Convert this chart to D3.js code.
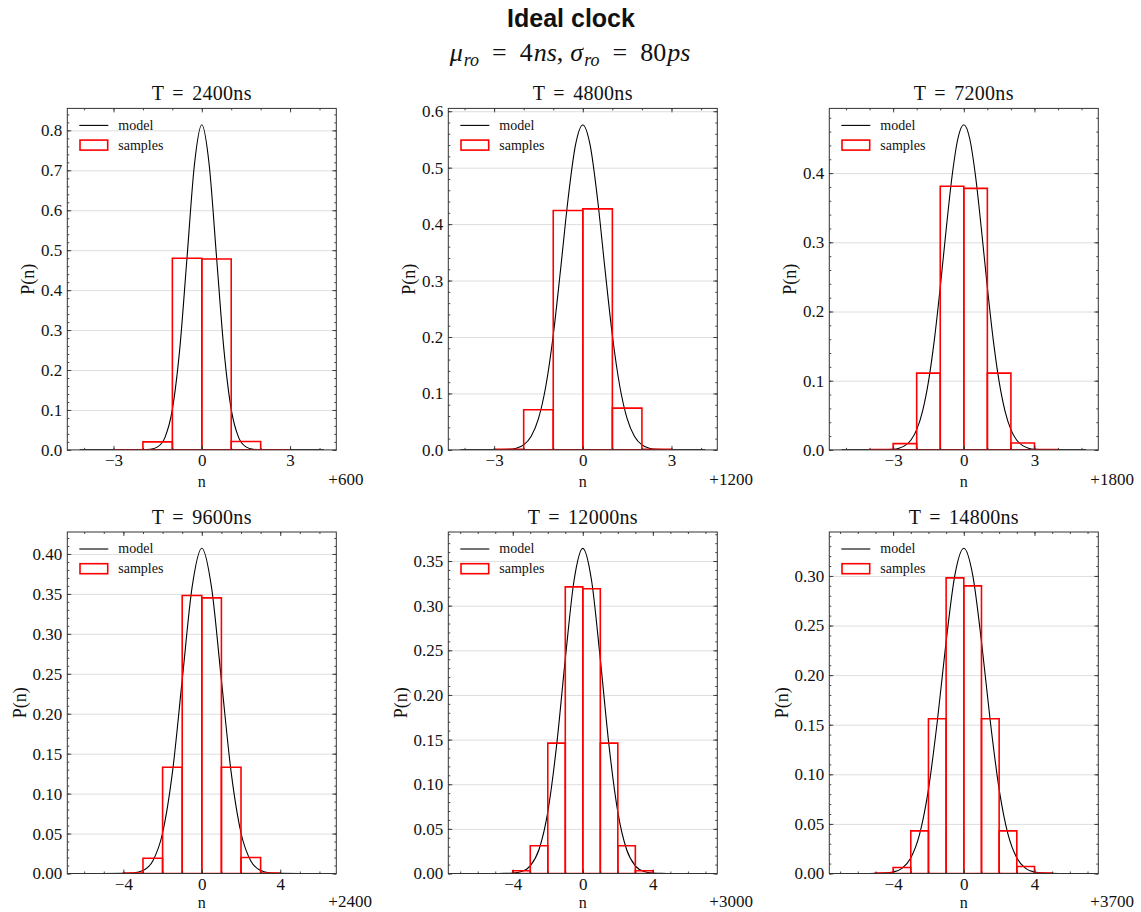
<!DOCTYPE html>
<html>
<head>
<meta charset="utf-8">
<script src="https://cdn.jsdelivr.net/npm/d3@7"></script>
<style>
  body { margin: 0; background: #fff; }
  text { font-family: "Liberation Serif", "DejaVu Serif", serif; fill: #111; }
</style>
</head>
<body>
<svg id="fig"></svg>
<script>
// one panel per measurement period T (ns); counts are shown relative to n0 = T / 4ns
const periods = [2400, 4800, 7200, 9600, 12000, 14800];
const offsets = [600, 1200, 1800, 2400, 3000, 3700];

// histogram of sampled counts: first bin edge (relative to offset), unit-width bins
const binStart = [-3, -3, -4, -4, -4, -5];
const sampleHeights = [
  [0, 0.020, 0.480, 0.478, 0.021, 0],
  [0.001, 0.071, 0.424, 0.427, 0.074, 0.001],
  [0.0005, 0.009, 0.111, 0.381, 0.378, 0.111, 0.010, 0.0005],
  [0.0005, 0.019, 0.133, 0.348, 0.345, 0.133, 0.020, 0.0005],
  [0.003, 0.031, 0.146, 0.321, 0.319, 0.146, 0.031, 0.003],
  [0.0005, 0.006, 0.043, 0.156, 0.298, 0.290, 0.156, 0.043, 0.007, 0.0005]
];

// model curve, read for n >= 0 (it is symmetric about 0)
const modelX = [
  [0, 0.25, 0.5, 0.75, 1, 1.25, 1.5, 1.75, 2, 2.5, 3, 4.15],
  [0, 0.25, 0.5, 0.75, 1, 1.25, 1.5, 1.75, 2, 2.25, 2.5, 3, 4.14],
  [0, 0.25, 0.5, 0.75, 1, 1.25, 1.5, 1.75, 2, 2.25, 2.5, 2.75, 3, 3.5, 4, 5.19],
  [0, 0.5, 1, 1.5, 2, 2.5, 3, 3.5, 4, 6.24],
  [0, 0.5, 1, 1.5, 2, 2.5, 3, 3.5, 4, 4.5, 6.98],
  [0, 0.5, 1, 1.5, 2, 2.5, 3, 3.5, 4, 4.5, 5, 6.92]
];
const modelY = [
  [0.814, 0.7146, 0.4837, 0.2523, 0.1014, 0.0314, 0.0075, 0.0014, 0.0002, 0, 0, 0],
  [0.5757, 0.5394, 0.4437, 0.3205, 0.2032, 0.1132, 0.0553, 0.0237, 0.0089, 0.0030, 0.0009, 0.0001, 0],
  [0.4699, 0.4500, 0.3951, 0.3181, 0.2348, 0.1590, 0.0987, 0.0562, 0.0293, 0.0140, 0.0062, 0.0025, 0.0009, 0.0001, 0, 0],
  [0.4072, 0.3575, 0.2420, 0.1262, 0.0507, 0.0157, 0.0038, 0.0007, 0.0001, 0],
  [0.3642, 0.3282, 0.2401, 0.1426, 0.0688, 0.0269, 0.0086, 0.0022, 0.0005, 0.0001, 0],
  [0.3279, 0.3013, 0.2339, 0.1533, 0.0849, 0.0397, 0.0157, 0.0052, 0.0015, 0.0004, 0.0001, 0]
];

// axis limits and ticks
const xLimits = [4.57, 4.55, 5.71, 6.86, 7.68, 7.61];
const yMax = [0.855, 0.605, 0.4935, 0.4275, 0.3825, 0.3443];
const xTickStep = [3, 3, 3, 4, 4, 4];
const yTickStep = [0.1, 0.1, 0.1, 0.05, 0.05, 0.05];
const yDecimals = [1, 1, 1, 2, 2, 2];

const W = 1141, H = 912;
const colX = [67.3, 448.3, 829.3], rowY = [108.4, 532.0];
const pw = 269, ph = 341.5;
const axisColor = "#333";

const svg = d3.select("#fig").attr("width", W).attr("height", H);

svg.append("text")
  .attr("x", 571).attr("y", 27).attr("text-anchor", "middle")
  .style("font-family", "'Liberation Sans', Arial, sans-serif")
  .style("font-weight", "bold").style("font-size", "25px")
  .text("Ideal clock");

// mu_ro = 4ns, sigma_ro = 80ps
const sub = svg.append("text").attr("x", 570).attr("y", 61).attr("text-anchor", "middle")
  .style("font-size", "26px");
const parts = [
  ["μ", "italic", 0, 0, 26], ["ro", "italic", 1, 5, 18],
  ["=", "normal", 13, -5, 26], ["4", "normal", 13, 0, 26], ["ns", "italic", 1, 0, 26],
  [",", "normal", 0, 0, 26], ["σ", "italic", 7, 0, 26], ["ro", "italic", 1, 5, 18],
  ["=", "normal", 13, -5, 26], ["80", "normal", 13, 0, 26], ["ps", "italic", 1, 0, 26]
];
parts.forEach(([t, st, dx, dy, fs]) => {
  sub.append("tspan").attr("dx", dx).attr("dy", dy)
    .style("font-style", st).style("font-size", fs + "px").text(t);
});

function styleAxis(sel, withText) {
  sel.select(".domain").remove();
  sel.selectAll(".tick line").attr("stroke", axisColor).attr("stroke-width", 0.9);
  if (withText) {
    sel.selectAll(".tick text")
      .style("font-family", "'Liberation Serif', serif")
      .style("font-size", "17px").style("fill", "#111");
  } else {
    sel.selectAll(".tick text").remove();
  }
}

periods.forEach((T, i) => {
  const row = Math.floor(i / 3);
  const left = colX[i % 3], top = rowY[row];
  const g = svg.append("g").attr("transform", `translate(${left},${top})`);

  const x = d3.scaleLinear().domain([-xLimits[i], xLimits[i]]).range([0, pw]);
  const y = d3.scaleLinear().domain([0, yMax[i]]).range([ph, 0]);

  const nY = Math.floor(yMax[i] / yTickStep[i] + 1e-6);
  const yMajor = d3.range(0, nY + 1).map(k => +(k * yTickStep[i]).toFixed(4));
  const yMinorStep = yTickStep[i] / 5;
  const nYm = Math.floor(yMax[i] / yMinorStep + 1e-6);
  const yMinor = d3.range(0, nYm + 1).map(k => +(k * yMinorStep).toFixed(4));
  const s = xTickStep[i];
  const xMajor = [-s, 0, s];
  const nXm = Math.floor(xLimits[i]);
  const xMinor = d3.range(-nXm, nXm + 1);

  const clipId = "clip" + i;
  g.append("clipPath").attr("id", clipId)
    .append("rect").attr("width", pw).attr("height", ph);

  // horizontal grid
  const grid = g.append("g")
    .call(d3.axisLeft(y).tickValues(yMajor.slice(1)).tickSize(-pw).tickFormat(""));
  grid.select(".domain").remove();
  grid.selectAll(".tick line").attr("stroke", "#dedede").attr("stroke-width", 1);

  const plot = g.append("g").attr("clip-path", `url(#${clipId})`);

  // model curve
  const half = modelX[i].map((v, k) => [v, modelY[i][k]]);
  const pts = half.slice(1).reverse().map(([a, b]) => [-a, b]).concat(half);
  plot.append("path")
    .attr("d", d3.line().x(d => x(d[0])).y(d => y(d[1])).curve(d3.curveMonotoneX)(pts))
    .attr("fill", "none").attr("stroke", "#000").attr("stroke-width", 1.1);

  // sample histogram
  const bins = sampleHeights[i].map((h, j) => ({ x0: binStart[i] + j, x1: binStart[i] + j + 1, h }));
  plot.selectAll("path.bar").data(bins).join("path")
    .attr("class", "bar")
    .attr("d", d => `M${x(d.x0)},${y(0)}V${y(d.h)}H${x(d.x1)}V${y(0)}Z`)
    .attr("fill", "none").attr("stroke", "#ff0000").attr("stroke-width", 1.6);

  // ticks on all four sides, pointing inward
  g.append("g").attr("transform", `translate(0,${ph})`)
    .call(d3.axisBottom(x).tickValues(xMinor).tickSize(-2).tickFormat(""))
    .call(a => styleAxis(a, false));
  g.append("g")
    .call(d3.axisTop(x).tickValues(xMinor).tickSize(-2).tickFormat(""))
    .call(a => styleAxis(a, false));
  g.append("g").attr("transform", `translate(0,${ph})`)
    .call(d3.axisBottom(x).tickValues(xMajor).tickSizeInner(-4).tickSizeOuter(0)
      .tickPadding(4.5).tickFormat(d3.format("d")))
    .call(a => styleAxis(a, true));
  g.append("g")
    .call(d3.axisTop(x).tickValues(xMajor).tickSize(-4).tickFormat(""))
    .call(a => styleAxis(a, false));

  g.append("g")
    .call(d3.axisLeft(y).tickValues(yMinor).tickSize(-2).tickFormat(""))
    .call(a => styleAxis(a, false));
  g.append("g").attr("transform", `translate(${pw},0)`)
    .call(d3.axisRight(y).tickValues(yMinor).tickSize(-2).tickFormat(""))
    .call(a => styleAxis(a, false));
  const yAxis = g.append("g")
    .call(d3.axisLeft(y).tickValues(yMajor).tickSizeInner(-4).tickSizeOuter(0)
      .tickPadding(5).tickFormat(d3.format("." + yDecimals[i] + "f")))
    .call(a => styleAxis(a, true));
  g.append("g").attr("transform", `translate(${pw},0)`)
    .call(d3.axisRight(y).tickValues(yMajor).tickSize(-4).tickFormat(""))
    .call(a => styleAxis(a, false));

  // frame
  g.append("rect").attr("width", pw).attr("height", ph)
    .attr("fill", "none").attr("stroke", axisColor).attr("stroke-width", 1);

  // texts
  g.append("text").attr("x", pw / 2).attr("y", -8).attr("text-anchor", "middle")
    .style("font-size", "20px").style("word-spacing", "3px").style("letter-spacing", "0.3px")
    .text(`T = ${T}ns`);
  g.append("text").attr("x", pw / 2).attr("y", ph + (row === 0 ? 37 : 34.5))
    .attr("text-anchor", "middle")
    .style("font-size", "16px").text("n");
  g.append("text").attr("x", pw - 8).attr("y", ph + (row === 0 ? 35 : 33.5))
    .style("font-size", "17px").text("+" + offsets[i]);

  let minX = 0;
  yAxis.selectAll(".tick text").each(function () {
    minX = Math.min(minX, this.getBBox().x);
  });
  g.append("text")
    .attr("transform", `translate(${minX - 13},${ph / 2}) rotate(-90)`)
    .attr("text-anchor", "middle").attr("dy", "0.35em")
    .style("font-size", "18px").text("P(n)");

  // legend
  const lg = g.append("g");
  lg.append("line").attr("x1", 12).attr("x2", 41).attr("y1", 17).attr("y2", 17)
    .attr("stroke", "#000").attr("stroke-width", 1.1);
  lg.append("rect").attr("x", 12.7).attr("y", 31.7).attr("width", 27.7).attr("height", 10)
    .attr("fill", "none").attr("stroke", "#ff0000").attr("stroke-width", 1.6);
  lg.append("text").attr("x", 51).attr("y", 17).attr("dy", "0.32em")
    .style("font-size", "14px").text("model");
  lg.append("text").attr("x", 51).attr("y", 37).attr("dy", "0.32em")
    .style("font-size", "14px").text("samples");
});
</script>
</body>
</html>
